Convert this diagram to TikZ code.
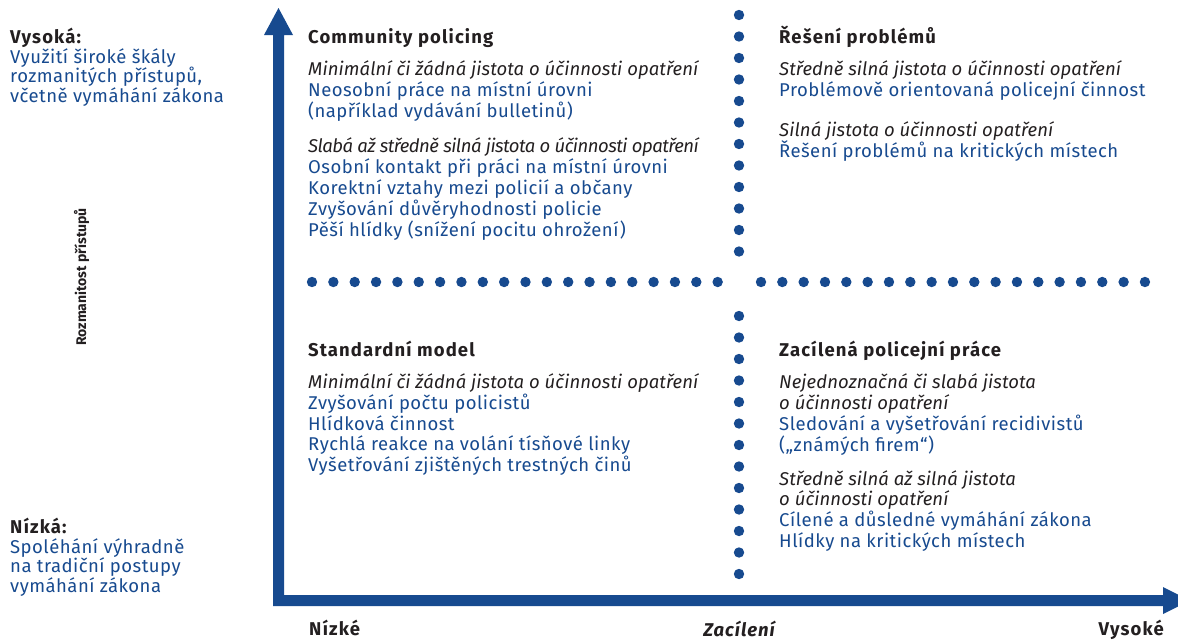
\documentclass[tikz,border=0pt]{standalone}
\usepackage{fontspec}
\setmainfont{Fira Sans}[UprightFeatures={LetterSpace=2.5}, ItalicFeatures={LetterSpace=0.5}, BoldFeatures={LetterSpace=6}, BoldItalicFeatures={LetterSpace=5}]
\newfontfamily\tightfont{Fira Sans}[LetterSpace=-2.7]
\newfontfamily\plainfont{Fira Sans}
\definecolor{axisblue}{RGB}{23,74,143}
\definecolor{ink}{RGB}{35,31,32}
\newcommand{\bodyfont}{\fontsize{18.5}{20}\selectfont}
\tikzset{
  txt/.style={anchor=base west, inner sep=0pt, font=\bodyfont},
  head/.style={txt, text=ink, font=\bodyfont\bfseries},
  ev/.style={txt, text=ink, font=\bodyfont\itshape},
  evtight/.style={txt, text=ink, font=\tightfont\bodyfont\itshape},
  item/.style={txt, text=axisblue},
  sidehead/.style={txt, text=ink, font=\bodyfont\bfseries},
  sideitem/.style={txt, text=axisblue},
  axislbl/.style={anchor=base, inner sep=0pt, text=ink, font=\bodyfont\bfseries},
  dotfill/.style={fill=axisblue}
}
\begin{document}
\begin{tikzpicture}[x=1pt,y=-1pt]
\useasboundingbox (0,0) rectangle (1178,640);

% axes
\fill[axisblue] (273,606) -- (273,35) -- (264,35) -- (278.5,8) -- (293,35) -- (284,35)
  -- (284,595) -- (1163,595) -- (1163,587) -- (1190,600.5) -- (1163,614) -- (1163,606) -- cycle;

% dotted separators
\foreach \k in {0,...,19} \fill[dotfill] (312+21.35*\k,282) circle (5.2);
\foreach \k in {0,...,18} \fill[dotfill] (761+21.33*\k,282) circle (5.2);
\foreach \k in {0,...,11} \fill[dotfill] (739,15+21.5*\k) circle (5.2);
\foreach \k in {0,...,12} \fill[dotfill] (739,316+21.5*\k) circle (5.2);

% left side labels
\node[sidehead] (hi) at (10,43) {Vysoká:};
\node[sideitem] (hi1) at (10,63.5) {Využití široké škály};
\node[sideitem] (hi2) at (10,82.8) {rozmanitých přístupů,};
\node[sideitem] (hi3) at (10,102) {včetně vymáhání zákona};

\node[sidehead] (lo) at (10,533.5) {Nízká:};
\node[sideitem] (lo1) at (10,553.3) {Spoléhání výhradně};
\node[sideitem] (lo2) at (10,572.7) {na tradiční postupy};
\node[sideitem] (lo3) at (10,592) {vymáhání zákona};

\node[axislbl, rotate=90, font=\plainfont\fontsize{14}{16}\selectfont\bfseries] (yax) at (86,277) {Rozmanitost přístupů};

% bottom axis labels
\node[head] (xlo) at (309,635) {Nízké};
\node[axislbl, font=\bodyfont\bfseries\itshape] (xmid) at (739,636) {Zacílení};
\node[head, anchor=base east] (xhi) at (1164,635) {Vysoké};

% top-left quadrant
\node[head] (cp) at (308,43) {Community policing};
\node[ev] (cp1) at (308,75) {Minimální či žádná jistota o účinnosti opatření};
\node[item] (cp2) at (308,96) {Neosobní práce na místní úrovni};
\node[item] (cp3) at (308,117) {(například vydávání bulletinů)};
\node[evtight] (cp4) at (308,152) {Slabá až středně silná jistota o účinnosti opatření};
\node[item] (cp5) at (308,173) {Osobní kontakt při práci na místní úrovni};
\node[item] (cp6) at (308,194) {Korektní vztahy mezi policií a občany};
\node[item] (cp7) at (308,215) {Zvyšování důvěryhodnosti policie};
\node[item] (cp8) at (308,236) {Pěší hlídky (snížení pocitu ohrožení)};

% top-right quadrant
\node[head] (ps) at (779,43) {Řešení problémů};
\node[ev] (ps1) at (779,75) {Středně silná jistota o účinnosti opatření};
\node[item] (ps2) at (779,96.5) {Problémově orientovaná policejní činnost};
\node[ev] (ps3) at (779,136.5) {Silná jistota o účinnosti opatření};
\node[item] (ps4) at (779,157.5) {Řešení problémů na kritických místech};

% bottom-left quadrant
\node[head] (sm) at (308,356) {Standardní model};
\node[ev] (sm1) at (308,388.5) {Minimální či žádná jistota o účinnosti opatření};
\node[item] (sm2) at (308,409.5) {Zvyšování počtu policistů};
\node[item] (sm3) at (308,430) {Hlídková činnost};
\node[item] (sm4) at (308,450.5) {Rychlá reakce na volání tísňové linky};
\node[item] (sm5) at (308,471) {Vyšetřování zjištěných trestných činů};

% bottom-right quadrant
\node[head] (zp) at (779,356) {Zacílená policejní práce};
\node[ev] (zp1) at (779,388.5) {Nejednoznačná či slabá jistota};
\node[ev] (zp2) at (779,409.5) {o účinnosti opatření};
\node[item] (zp3) at (779,430.5) {Sledování a vyšetřování recidivistů};
\node[item] (zp4) at (779,451) {(„známých firem“)};
\node[ev] (zp5) at (779,485) {Středně silná až silná jistota};
\node[ev] (zp6) at (779,505.5) {o účinnosti opatření};
\node[item] (zp7) at (779,526.5) {Cílené a důsledné vymáhání zákona};
\node[item] (zp8) at (779,547) {Hlídky na kritických místech};
\end{tikzpicture}
\end{document}
